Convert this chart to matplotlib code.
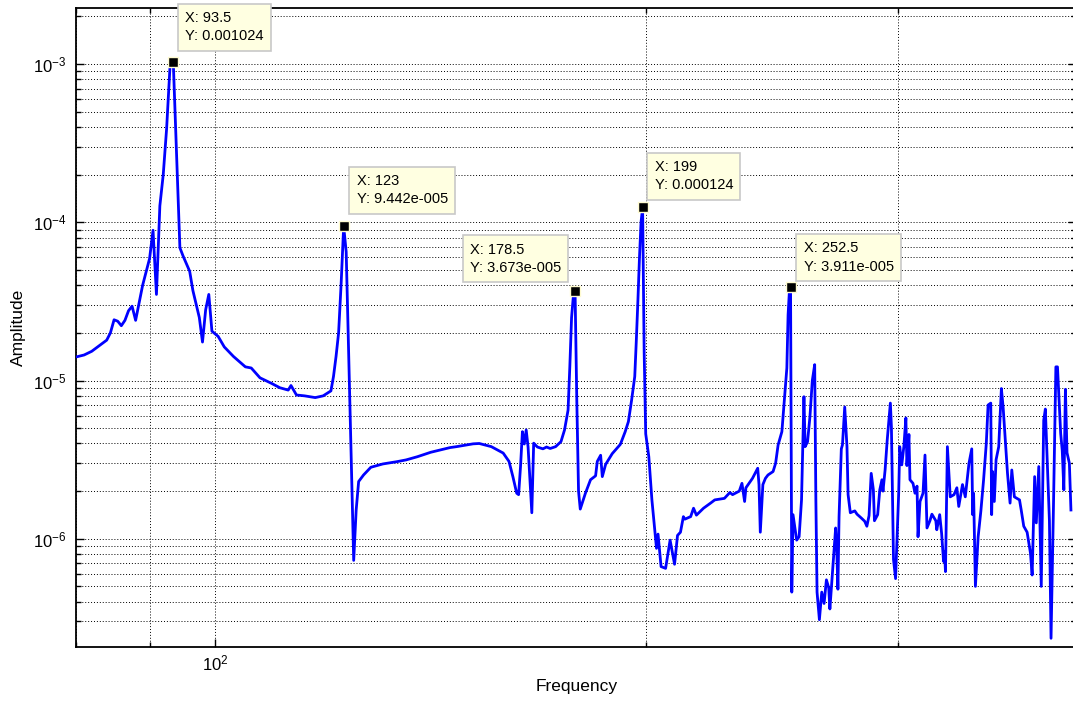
import matplotlib
matplotlib.use("Agg")
from matplotlib import pyplot as plt
from matplotlib.ticker import LogLocator, NullFormatter
import numpy as np

# Spectrum (Hz, amplitude)
freq = [
    80.0, 81.0, 82.0, 83.0, 84.0, 84.5, 85.0, 85.5, 86.0, 86.5,
    87.0, 87.5, 88.0, 88.5, 89.0, 90.0, 90.5, 91.0, 91.5, 92.0,
    92.5, 93.0, 93.5, 94.5, 95.0, 96.0, 96.5, 97.5, 98.0, 98.5,
    99.0, 99.5, 100.5, 101.5, 103.0, 105.0, 106.0, 107.5, 109.5, 111.0,
    112.5, 113.0, 114.0, 115.5, 117.5, 119.0, 120.5, 121.0, 121.5, 122.0,
    122.5, 123.0, 123.5, 125.0, 125.5, 126.0, 127.0, 128.5, 131.0, 134.0,
    136.0, 138.5, 141.5, 146.0, 147.5, 151.5, 153.0, 156.0, 159.0, 160.5,
    161.5, 162.5, 163.0, 163.5, 164.0, 164.5, 165.0, 165.5, 166.5, 167.0,
    168.0, 169.5, 170.5, 171.5, 173.0, 174.5, 175.5, 176.5, 177.0, 177.5,
    178.0, 178.5, 179.0, 179.5, 180.0, 181.5, 183.0, 184.5, 185.0, 186.0,
    186.5, 187.5, 189.5, 192.0, 193.5, 194.5, 195.5, 196.5, 197.0, 197.5,
    198.0, 198.5, 199.0, 199.5, 200.0, 201.0, 202.0, 203.5, 204.0, 205.0,
    206.5, 208.0, 209.5, 210.5, 211.5, 212.5, 213.0, 215.0, 216.0, 217.0,
    219.5, 222.0, 223.5, 227.0, 229.0, 230.0, 232.5, 233.5, 234.5, 235.0,
    237.5, 239.5, 240.0, 240.5, 241.5, 242.5, 243.5, 245.5, 246.5, 247.5,
    249.0, 250.0, 251.0, 251.5, 252.0, 252.5, 253.0, 253.5, 255.0, 256.0,
    257.0, 258.0, 258.5, 259.5, 260.5, 261.5, 262.5, 263.0, 263.5, 264.5,
    265.5, 266.5, 267.5, 268.5, 269.0, 270.0, 271.5, 272.0, 272.5, 273.0,
    274.0, 274.5, 275.5, 276.5, 277.0, 278.0, 280.0, 281.0, 283.0, 284.5,
    285.5, 286.5, 287.5, 288.5, 289.0, 290.5, 291.5, 292.5, 293.0, 294.0,
    295.0, 296.5, 297.0, 298.0, 299.0, 300.5, 301.0, 302.0, 303.0, 304.0,
    304.5, 305.5, 306.0, 307.5, 308.5, 309.5, 310.0, 311.0, 312.5, 313.5,
    314.5, 316.0, 317.0, 319.0, 319.5, 321.0, 322.0, 323.0, 323.5, 324.0,
    325.0, 326.5, 328.5, 330.0, 331.0, 333.0, 334.5, 336.5, 338.0, 338.5,
    339.0, 340.0, 341.5, 343.0, 344.5, 346.0, 347.0, 348.5, 349.0, 349.5,
    350.5, 351.5, 353.0, 354.5, 355.5, 357.0, 358.0, 359.5, 360.5, 362.0,
    365.0, 366.0, 367.5, 369.5, 371.5, 372.5, 374.0, 375.0, 376.5, 378.0,
    379.5, 380.5, 382.0, 383.0, 384.0, 385.5, 387.0, 388.0, 390.0, 391.0,
    392.0, 393.0, 394.0, 395.5, 396.5,
]

amp = [
    1.41e-5, 1.45e-5, 1.53e-5, 1.66e-5, 1.8e-5, 2.0e-5, 2.42e-5, 2.37e-5, 2.22e-5, 2.4e-5,
    2.76e-5, 2.95e-5, 2.4e-5, 3.1e-5, 4.0e-5, 5.9e-5, 8.9e-5, 3.5e-5, 1.27e-4, 2.0e-4,
    3.9e-4, 9.5e-4, 1.024e-3, 6.9e-5, 6.1e-5, 4.9e-5, 3.7e-5, 2.5e-5, 1.75e-5, 2.8e-5,
    3.5e-5, 2.05e-5, 1.9e-5, 1.63e-5, 1.42e-5, 1.22e-5, 1.2e-5, 1.04e-5, 9.6e-6, 9.0e-6,
    8.7e-6, 9.3e-6, 8.1e-6, 8.0e-6, 7.8e-6, 8.0e-6, 8.6e-6, 1.06e-5, 1.42e-5, 2.0e-5,
    4.1e-5, 9.442e-5, 6.5e-5, 7.3e-7, 1.52e-6, 2.3e-6, 2.53e-6, 2.83e-6, 2.97e-6, 3.07e-6,
    3.15e-6, 3.3e-6, 3.52e-6, 3.77e-6, 3.82e-6, 3.98e-6, 4.0e-6, 3.82e-6, 3.48e-6, 3.08e-6,
    2.47e-6, 1.94e-6, 1.9e-6, 2.86e-6, 4.75e-6, 3.97e-6, 4.87e-6, 3.8e-6, 1.46e-6, 4.02e-6,
    3.8e-6, 3.7e-6, 3.8e-6, 3.72e-6, 3.82e-6, 4.11e-6, 4.87e-6, 6.5e-6, 1.22e-5, 2.5e-5,
    3.4e-5, 3.673e-5, 7.5e-6, 2.0e-6, 1.54e-6, 1.94e-6, 2.36e-6, 2.5e-6, 3.08e-6, 3.37e-6,
    2.47e-6, 2.95e-6, 3.45e-6, 3.95e-6, 4.75e-6, 5.5e-6, 7.5e-6, 1.06e-5, 1.8e-5, 3.2e-5,
    6.0e-5, 1.0e-4, 1.24e-4, 1.5e-5, 4.6e-6, 3.3e-6, 1.76e-6, 8.7e-7, 1.07e-6, 6.67e-7,
    6.5e-7, 9.8e-7, 6.9e-7, 1.05e-6, 1.1e-6, 1.38e-6, 1.33e-6, 1.38e-6, 1.56e-6, 1.41e-6,
    1.56e-6, 1.68e-6, 1.76e-6, 1.8e-6, 1.96e-6, 1.9e-6, 2.0e-6, 2.24e-6, 1.72e-6, 2.1e-6,
    2.41e-6, 2.79e-6, 2.2e-6, 1.1e-6, 2.2e-6, 2.41e-6, 2.53e-6, 2.66e-6, 3.0e-6, 3.92e-6,
    4.75e-6, 7.5e-6, 1.2e-5, 2.6e-5, 3.6e-5, 3.911e-5, 4.6e-7, 1.42e-6, 9.8e-7, 1.03e-6,
    1.76e-6, 7.9e-6, 3.82e-6, 4.1e-6, 5.9e-6, 1.0e-5, 1.26e-5, 1.76e-6, 4.6e-7, 3.08e-7,
    4.6e-7, 3.9e-7, 5.5e-7, 4.9e-7, 3.6e-7, 5.75e-7, 1.17e-6, 8.5e-7, 4.8e-7, 1.38e-6,
    3.7e-6, 3.92e-6, 6.8e-6, 3.82e-6, 1.9e-6, 1.46e-6, 1.5e-6, 1.43e-6, 1.35e-6, 1.29e-6,
    1.2e-6, 1.4e-6, 2.59e-6, 2.04e-6, 1.3e-6, 1.42e-6, 2.04e-6, 2.36e-6, 2.0e-6, 2.72e-6,
    4.2e-6, 7.2e-6, 5.1e-6, 7.4e-7, 5.6e-7, 1.94e-6, 3.82e-6, 2.93e-6, 3.82e-6, 5.8e-6,
    2.9e-6, 4.56e-6, 2.36e-6, 2.24e-6, 1.94e-6, 2.15e-6, 1.03e-6, 1.72e-6, 1.94e-6, 3.38e-6,
    1.17e-6, 1.3e-6, 1.43e-6, 1.3e-6, 1.14e-6, 1.42e-6, 1.08e-6, 7.2e-7, 8.3e-7, 6.2e-7,
    3.82e-6, 1.84e-6, 1.9e-6, 2.1e-6, 1.6e-6, 2.2e-6, 1.84e-6, 3.0e-6, 3.7e-6, 1.42e-6,
    1.94e-6, 5.0e-7, 1.03e-6, 1.5e-6, 2.36e-6, 4.0e-6, 7.0e-6, 7.2e-6, 1.42e-6, 2.66e-6,
    1.72e-6, 3.16e-6, 3.82e-6, 8.9e-6, 6.8e-6, 3.82e-6, 2.6e-6, 1.68e-6, 2.72e-6, 1.84e-6,
    1.76e-6, 1.52e-6, 1.2e-6, 1.1e-6, 8.1e-7, 5.9e-7, 2.47e-6, 1.26e-6, 2.86e-6, 5.0e-7,
    5.6e-6, 6.6e-6, 2.47e-6, 1.3e-6, 2.35e-7, 1.6e-6, 1.22e-5, 1.22e-5, 4.64e-6, 3.6e-6,
    2.04e-6, 8.8e-6, 3.5e-6, 3.0e-6, 1.52e-6,
]

# Data tips (peaks picked on the spectrum)
tip_freq = [93.5, 123.0, 178.5, 199.0, 252.5]
tip_amp = [amp[freq.index(f)] for f in tip_freq]

# box placement relative to the marker, in pixels (dx, dy, side)
tip_place = [(5, 12, "right"), (6, 13, "right"), (-7, 9, "left"), (5, 8, "right"), (6, 6, "right")]


def matlab_num(v):
    # MATLAB style: %.4g with a three digit exponent
    s = f"{v:.4g}"
    if "e" in s:
        m, e = s.split("e")
        e = int(e)
        s = f"{m}e{'-' if e < 0 else '+'}{abs(e):03d}"
    return s


plt.rcParams["font.family"] = ["Liberation Sans", "DejaVu Sans"]

W, H = 1073, 702
fig = plt.figure(figsize=(W / 100, H / 100), dpi=100)
ax = fig.add_axes([76.4 / W, 55 / H, 1000 / W, 639 / H])

ax.plot(freq, amp, color=(0, 0, 1), lw=2, zorder=3)
ax.set_xscale("log")
ax.set_yscale("log")
ax.set_xlim(80, 400)
ax.set_ylim(2.07e-7, 2.26e-3)

ax.xaxis.set_major_locator(LogLocator(base=10, numticks=20))
ax.xaxis.set_minor_locator(LogLocator(base=10, subs=np.arange(2, 10), numticks=50))
ax.xaxis.set_minor_formatter(NullFormatter())
ax.yaxis.set_major_locator(LogLocator(base=10, numticks=20))
ax.yaxis.set_minor_locator(LogLocator(base=10, subs=np.arange(2, 10), numticks=50))
ax.yaxis.set_minor_formatter(NullFormatter())

ax.grid(True, which="both", color="k", linestyle=(0, (1, 2)), lw=0.7)
ax.set_axisbelow(True)
ax.tick_params(which="both", direction="in", top=True, right=True, width=1, labelsize=12)
ax.tick_params(which="major", length=6)
ax.tick_params(which="minor", length=3.5)
ax.tick_params(axis="y", pad=7)
ax.tick_params(axis="x", pad=5)
for sp in ax.spines.values():
    sp.set_linewidth(1.3)

ax.set_xlabel("Frequency", fontsize=12.5, labelpad=4)
ax.set_ylabel("Amplitude", fontsize=12.5, labelpad=5)

px2pt = 72 / 100
pad_px = 7
for f, a, (dx, dy, side) in zip(tip_freq, tip_amp, tip_place):
    ax.plot(f, a, "s", ms=7, mfc="k", mec="#fffbd0", mew=1, zorder=5)
    label = f"X: {matlab_num(f)}\nY: {matlab_num(a)}"
    if side == "right":
        ox, ha = (dx + pad_px) * px2pt, "left"
    else:
        ox, ha = (dx - pad_px) * px2pt, "right"
    oy = (dy + pad_px) * px2pt
    ax.annotate(label, (f, a), xytext=(ox, oy), textcoords="offset points",
                ha=ha, va="bottom", multialignment="left", fontsize=10.5, linespacing=1.4,
                bbox=dict(boxstyle="square,pad=0.5", fc="#ffffe1", ec="#c8c8c8", lw=1.2),
                zorder=6)

fig.savefig("out.png", dpi=100)
